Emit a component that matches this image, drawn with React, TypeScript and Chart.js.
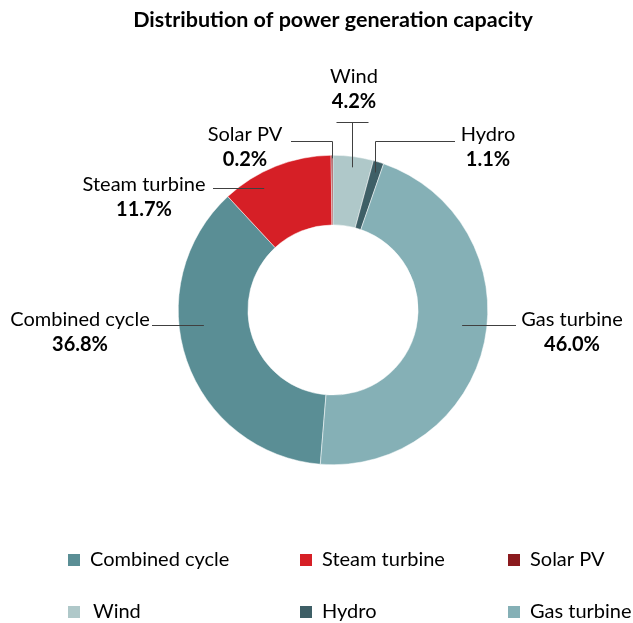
import React, { useEffect, useRef } from "react";
import { Chart, registerables } from "chart.js";

Chart.register(...registerables);

const TITLE = "Distribution of power generation capacity";
const categories = ["Combined cycle", "Steam turbine", "Solar PV", "Wind", "Hydro", "Gas turbine"];
const shares = [36.8, 11.7, 0.2, 4.2, 1.1, 46.0];
const valueLabels = ["36.8%", "11.7%", "0.2%", "4.2%", "1.1%", "46.0%"];
const colors = ["#5a8e95", "#d61f26", "#8b1a1e", "#afc8c9", "#3e5f66", "#85b0b6"];

const FONT = "Lato, 'Open Sans', sans-serif";

// label layout (relative to chart centre), index matches categories
type LabelLayout = { tx: number; ty: number; ly: number; lx: number; rf: number; kind: "h" | "elbow" };
const labelLayout: LabelLayout[] = [
  { tx: -253, ty: 10, ly: 15, lx: -181, rf: 0.84, kind: "h" },      // Combined cycle
  { tx: -189, ty: -125, ly: -122, lx: -120, rf: 0.905, kind: "h" },  // Steam turbine
  { tx: -88, ty: -175, ly: -169, lx: -42, rf: 0.98, kind: "elbow" }, // Solar PV
  { tx: 21, ty: -233, ly: -188, lx: -16, rf: 0.93, kind: "elbow" },  // Wind
  { tx: 155, ty: -175, ly: -169, lx: 122, rf: 0.93, kind: "elbow" }, // Hydro
  { tx: 239, ty: 10, ly: 15, lx: 183, rf: 0.84, kind: "h" },        // Gas turbine
];

const labelPlugin = {
  id: "leaderLabels",
  afterDatasetsDraw(chart: any) {
    const ctx = chart.ctx as CanvasRenderingContext2D;
    const meta = chart.getDatasetMeta(0);
    ctx.save();
    meta.data.forEach((arc: any, i: number) => {
      const { x: cx, y: cy, outerRadius, startAngle, endAngle } = arc.getProps(
        ["x", "y", "outerRadius", "startAngle", "endAngle"], true
      );
      const L = labelLayout[i];
      const rIn = outerRadius * L.rf;
      ctx.strokeStyle = "#404040";
      ctx.lineWidth = 1;
      ctx.beginPath();
      const ly = cy + L.ly + 0.5;
      if (L.kind === "h") {
        const dy = L.ly;
        const dx = Math.sqrt(Math.max(rIn * rIn - dy * dy, 0));
        const ex = cx + (L.lx < 0 ? -dx : dx);
        ctx.moveTo(cx + L.lx, ly);
        ctx.lineTo(ex, ly);
      } else {
        const mid = (startAngle + endAngle) / 2;
        const px = Math.round(cx + rIn * Math.cos(mid)) + 0.5;
        const py = cy + rIn * Math.sin(mid);
        if (i === 3) {
          ctx.moveTo(px - 16, ly);
          ctx.lineTo(px + 16, ly);
        } else {
          ctx.moveTo(cx + L.lx, ly);
          ctx.lineTo(px, ly);
        }
        ctx.moveTo(px, ly);
        ctx.lineTo(px, py);
      }
      ctx.stroke();
      ctx.fillStyle = "#000000";
      ctx.textAlign = "center";
      ctx.textBaseline = "middle";
      ctx.font = `20px ${FONT}`;
      ctx.fillText(categories[i], cx + L.tx, cy + L.ty);
      ctx.font = `bold 20px ${FONT}`;
      ctx.fillText(valueLabels[i], cx + L.tx, cy + L.ty + 25);
    });
    // title
    ctx.fillStyle = "#000000";
    ctx.textAlign = "center";
    ctx.textBaseline = "middle";
    ctx.font = `bold 21.5px ${FONT}`;
    ctx.fillText(TITLE, 333, 20);
    // legend
    const colX = [68, 300, 508];
    const rowY = [560, 612];
    ctx.font = `20px ${FONT}`;
    ctx.textAlign = "left";
    categories.forEach((c, i) => {
      const col = i % 3;
      const row = Math.floor(i / 3);
      ctx.fillStyle = colors[i];
      ctx.fillRect(colX[col], rowY[row] - 6, 12, 12);
      ctx.fillStyle = "#000000";
      ctx.fillText(c, colX[col] + 22 + (row === 1 && col === 0 ? 3 : 0), rowY[row]);
    });
    ctx.restore();
  },
};

export default function App() {
  const ref = useRef<HTMLCanvasElement | null>(null);
  useEffect(() => {
    if (!ref.current) return;
    const chart = new Chart(ref.current, {
      type: "doughnut",
      data: {
        labels: categories,
        datasets: [
          {
            data: shares,
            backgroundColor: colors,
            borderWidth: 0.5,
            borderColor: "#ffffff",
          },
        ],
      },
      options: {
        animation: false,
        responsive: false,
        cutout: "55%",
        rotation: 184.7,
        layout: { padding: { left: 178, right: 145, top: 155, bottom: 158 } },
        plugins: {
          legend: { display: false },
          title: { display: false },
          tooltip: { enabled: false },
        },
      },
      plugins: [labelPlugin],
    });
    return () => chart.destroy();
  }, []);
  return (
    <div style={{ position: "fixed", left: 0, top: 0, width: 633, height: 623, background: "#fff" }}>
      <canvas ref={ref} width={633} height={623} style={{ width: 633, height: 623 }} />
    </div>
  );
}
